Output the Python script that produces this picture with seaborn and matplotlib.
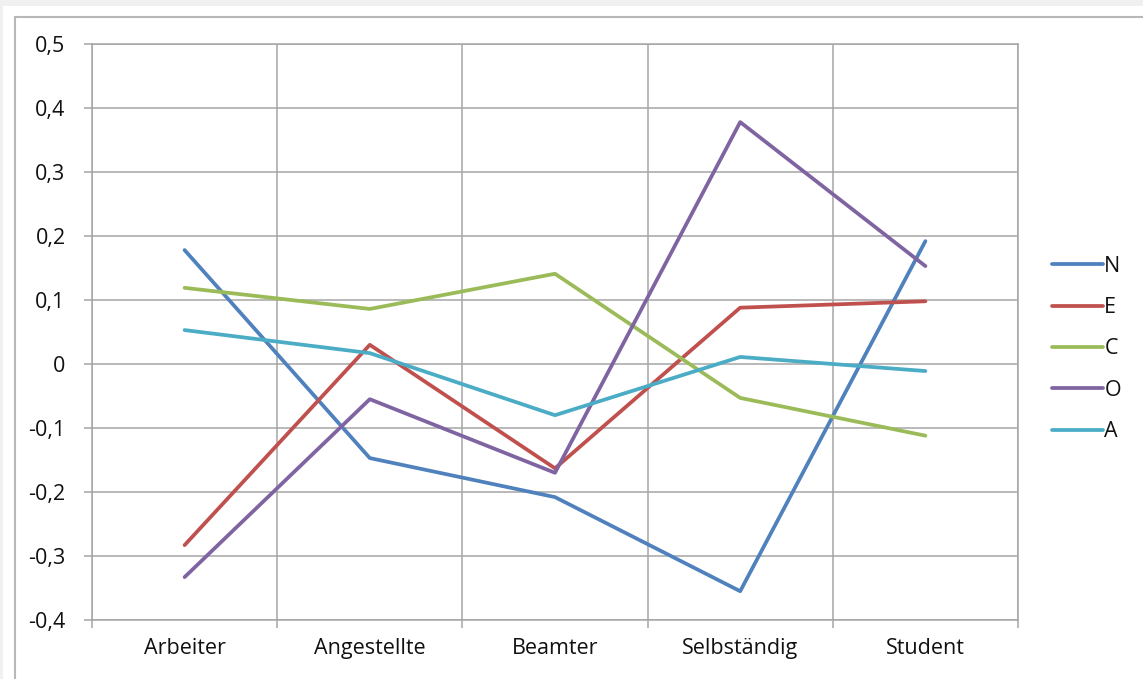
import matplotlib
matplotlib.use("Agg")
import matplotlib.pyplot as plt
import matplotlib.patches as mpatches
import matplotlib.lines as mlines
import seaborn as sns
import pandas as pd
import numpy as np

# Daten
categories = ['Arbeiter', 'Angestellte', 'Beamter', 'Selbständig', 'Student']
series_names = ['N', 'E', 'C', 'O', 'A']
N = [0.178, -0.147, -0.208, -0.355, 0.192]
E = [-0.283, 0.030, -0.163, 0.088, 0.098]
C = [0.119, 0.086, 0.141, -0.053, -0.112]
O = [-0.333, -0.055, -0.170, 0.378, 0.153]
A = [0.053, 0.017, -0.080, 0.011, -0.011]
y_ticks = [0.5, 0.4, 0.3, 0.2, 0.1, 0.0, -0.1, -0.2, -0.3, -0.4]
y_labels = ['0,5', '0,4', '0,3', '0,2', '0,1', '0', '-0,1', '-0,2', '-0,3', '-0,4']
colors = ['#4F81BD', '#C0504D', '#9BBB59', '#8064A2', '#4BACC6']

rows = []
for name, vals in zip(series_names, [N, E, C, O, A]):
    for cat, v in zip(categories, vals):
        rows.append({'Beruf': cat, 'Wert': v, 'Faktor': name})
df = pd.DataFrame(rows)

sns.set_style('white')
plt.rcParams['font.family'] = ['Open Sans', 'DejaVu Sans']

fig = plt.figure(figsize=(11.43, 6.79), dpi=100)
fig.patch.set_facecolor('#f0f0f0')
# weisser Hintergrund + Diagrammrahmen wie im Screenshot
fig.add_artist(mpatches.Rectangle((3 / 1143, 0), 1, 1 - 6 / 679, transform=fig.transFigure,
                                  facecolor='white', edgecolor='none', zorder=-2))
fig.add_artist(mlines.Line2D([15 / 1143, 15 / 1143], [0, 1 - 17 / 679], transform=fig.transFigure,
                             color='#b8b8b8', lw=1.5))
fig.add_artist(mlines.Line2D([15 / 1143, 1], [1 - 17 / 679, 1 - 17 / 679], transform=fig.transFigure,
                             color='#b8b8b8', lw=1.5))

ax = fig.add_axes([92 / 1143, 1 - 620 / 679, (1018 - 92) / 1143, (620 - 44) / 679])
ax.set_facecolor('white')

sns.lineplot(data=df, x='Beruf', y='Wert', hue='Faktor', hue_order=series_names,
             palette=colors, linewidth=2.7, ax=ax, legend=True, sort=False)

ax.set_xlim(-0.5, len(categories) - 0.5)
ax.set_ylim(-0.4, 0.5)
ax.set_yticks(y_ticks)
ax.set_yticklabels(y_labels)
ax.set_xticks(range(len(categories)))
ax.set_xticklabels(categories)
ax.set_xticks(np.arange(-0.5, len(categories), 1.0), minor=True)
ax.set_xlabel('')
ax.set_ylabel('')

grid_c = '#a6a6a6'
ax.grid(True, axis='y', color=grid_c, lw=1.1)
ax.grid(True, axis='x', which='minor', color=grid_c, lw=1.1)
ax.grid(False, axis='x', which='major')
ax.set_axisbelow(True)
for s in ax.spines.values():
    s.set_color(grid_c)
    s.set_linewidth(1.1)

fs = 15.5
ax.tick_params(axis='y', which='major', length=6, width=1.1, color=grid_c, direction='out',
               labelsize=fs, labelcolor='#111111', pad=13, left=True)
ax.tick_params(axis='x', which='major', length=0, labelsize=fs, labelcolor='#111111', pad=13)
ax.tick_params(axis='x', which='minor', length=6, width=1.1, color=grid_c, direction='out', bottom=True)

handles, labels = ax.get_legend_handles_labels()
ax.legend(handles, labels, loc='center left', bbox_to_anchor=(1052 / 1143, 1 - 349 / 679),
          bbox_transform=fig.transFigure, frameon=False, fontsize=fs, handlelength=2.35,
          handletextpad=0.08, labelspacing=0.95, borderaxespad=0, borderpad=0)
for t in ax.get_legend().get_texts():
    t.set_color('#111111')

fig.savefig('out.png', dpi=100, facecolor=fig.get_facecolor())
